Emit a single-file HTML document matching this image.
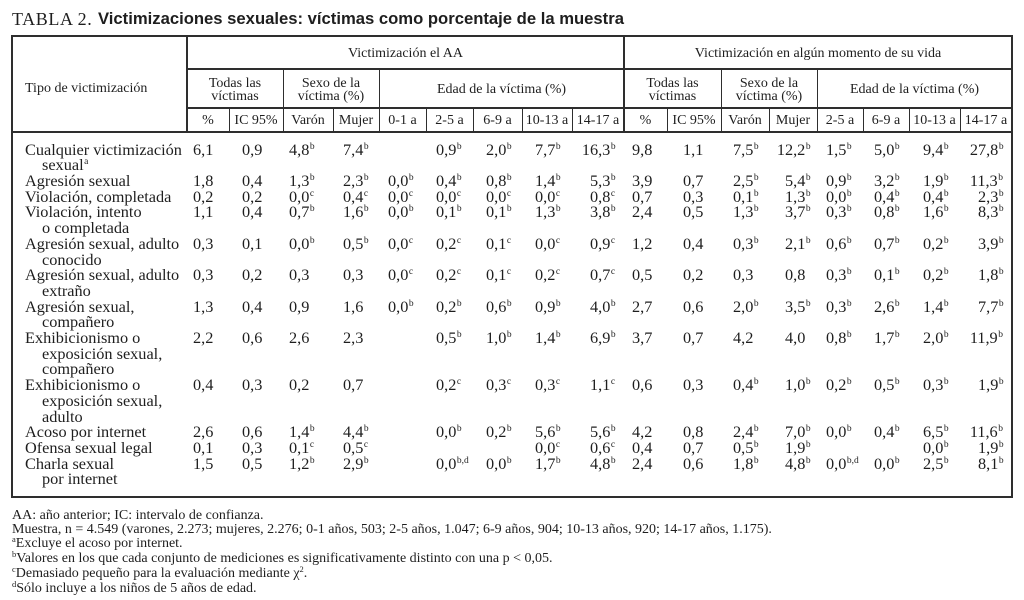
<!DOCTYPE html>
<html><head><meta charset="utf-8">
<style>
*{margin:0;padding:0;box-sizing:border-box}
html,body{width:1024px;height:600px;background:#fff;overflow:hidden}
body{position:relative;color:#1e1e1e;font-family:"Liberation Serif","Times New Roman",serif}
.ln{position:absolute;background:#2e2e2e}
.h{position:absolute;font-size:14px;line-height:14px;text-align:center;white-space:nowrap}
.h2{position:absolute;font-size:14px;line-height:13px;text-align:center;white-space:nowrap}
.row{position:absolute;left:0;top:0;width:1024px;height:16px;font-size:16.3px;line-height:15.71px}
.row span{position:absolute;top:0;white-space:nowrap}
.s{font-size:9.5px;position:relative;top:-6px;margin-left:.5px;font-style:normal}
.w{margin-left:-8.2px}
.a1{left:193px}.a2{left:242px}.a3{left:289px}.a4{left:343px}.a5{left:388px}.a6{left:436px}.a7{left:486px}.a8{left:535px}.a9{left:590px}
.b1{left:632px}.b2{left:683px}.b3{left:733px}.b4{left:785px}.b5{left:826px}.b6{left:874px}.b7{left:923px}.b8{left:978px}
.lab{position:absolute;left:25px;top:141.64px;font-size:16.3px;line-height:15.71px;white-space:nowrap}
.lab div{height:15.71px}
.lab .i{padding-left:17px}
.fn{position:absolute;left:12px;top:509.3px;font-size:14px;line-height:13.9px;white-space:nowrap}
.fs{font-size:8.5px;position:relative;top:-5px}
</style></head><body>

<div style="position:absolute;left:12px;top:8.7px;font-size:18px;line-height:20px;letter-spacing:0.6px;white-space:nowrap">TABLA 2.</div>
<div style="position:absolute;left:98px;top:9.2px;font-family:'Liberation Sans',Arial,sans-serif;font-weight:bold;font-size:16.65px;line-height:20px;white-space:nowrap">Victimizaciones sexuales: víctimas como porcentaje de la muestra</div>

<!-- table frame -->
<div style="position:absolute;left:11px;top:35px;width:1002px;height:463px;border:2px solid #2e2e2e"></div>
<div class="ln" style="left:187px;top:68.3px;width:825px;height:1.5px"></div>
<div class="ln" style="left:187px;top:107px;width:825px;height:1.5px"></div>
<div class="ln" style="left:12px;top:131px;width:1000px;height:1.6px"></div>
<div class="ln" style="left:186.3px;top:36px;width:1.5px;height:96px"></div>
<div class="ln" style="left:623.3px;top:36px;width:1.5px;height:96px"></div>
<div class="ln" style="left:282.5px;top:69px;width:1.5px;height:63px"></div>
<div class="ln" style="left:378.5px;top:69px;width:1.5px;height:63px"></div>
<div class="ln" style="left:720.5px;top:69px;width:1.5px;height:63px"></div>
<div class="ln" style="left:816.5px;top:69px;width:1.5px;height:63px"></div>
<div class="ln" style="left:228.5px;top:107.5px;width:1.5px;height:24px"></div>
<div class="ln" style="left:332.5px;top:107.5px;width:1.5px;height:24px"></div>
<div class="ln" style="left:425.5px;top:107.5px;width:1.5px;height:24px"></div>
<div class="ln" style="left:472.5px;top:107.5px;width:1.5px;height:24px"></div>
<div class="ln" style="left:521.5px;top:107.5px;width:1.5px;height:24px"></div>
<div class="ln" style="left:571.5px;top:107.5px;width:1.5px;height:24px"></div>
<div class="ln" style="left:666.5px;top:107.5px;width:1.5px;height:24px"></div>
<div class="ln" style="left:768.5px;top:107.5px;width:1.5px;height:24px"></div>
<div class="ln" style="left:862.5px;top:107.5px;width:1.5px;height:24px"></div>
<div class="ln" style="left:908.5px;top:107.5px;width:1.5px;height:24px"></div>
<div class="ln" style="left:959.5px;top:107.5px;width:1.5px;height:24px"></div>

<!-- header text -->
<div class="h" style="left:25px;top:82.3px;text-align:left">Tipo de victimización</div>
<div class="h" style="left:187px;width:437px;top:47.3px">Victimización el AA</div>
<div class="h" style="left:624px;width:388px;top:47.3px">Victimización en algún momento de su vida</div>

<div class="h2" style="left:187px;width:96px;top:77.1px">Todas las<br>víctimas</div>
<div class="h2" style="left:283px;width:96px;top:77.1px">Sexo de la<br>víctima (%)</div>
<div class="h" style="left:379px;width:245px;top:83.3px">Edad de la víctima (%)</div>
<div class="h2" style="left:624px;width:97px;top:77.1px">Todas las<br>víctimas</div>
<div class="h2" style="left:721px;width:96px;top:77.1px">Sexo de la<br>víctima (%)</div>
<div class="h" style="left:817px;width:195px;top:83.3px">Edad de la víctima (%)</div>

<div class="h" style="left:187px;width:42px;top:114.3px">%</div>
<div class="h" style="left:229px;width:54px;top:114.3px">IC 95%</div>
<div class="h" style="left:283px;width:50px;top:114.3px">Varón</div>
<div class="h" style="left:333px;width:46px;top:114.3px">Mujer</div>
<div class="h" style="left:379px;width:47px;top:114.3px">0-1 a</div>
<div class="h" style="left:426px;width:47px;top:114.3px">2-5 a</div>
<div class="h" style="left:473px;width:49px;top:114.3px">6-9 a</div>
<div class="h" style="left:522px;width:50px;top:114.3px">10-13 a</div>
<div class="h" style="left:572px;width:52px;top:114.3px">14-17 a</div>
<div class="h" style="left:624px;width:43px;top:114.3px">%</div>
<div class="h" style="left:667px;width:54px;top:114.3px">IC 95%</div>
<div class="h" style="left:721px;width:48px;top:114.3px">Varón</div>
<div class="h" style="left:769px;width:48px;top:114.3px">Mujer</div>
<div class="h" style="left:817px;width:46px;top:114.3px">2-5 a</div>
<div class="h" style="left:863px;width:46px;top:114.3px">6-9 a</div>
<div class="h" style="left:909px;width:51px;top:114.3px">10-13 a</div>
<div class="h" style="left:960px;width:52px;top:114.3px">14-17 a</div>

<!-- row labels -->
<div class="lab">
<div>Cualquier victimización</div>
<div class="i">sexual<span class="s">a</span></div>
<div>Agresión sexual</div>
<div>Violación, completada</div>
<div>Violación, intento</div>
<div class="i">o completada</div>
<div>Agresión sexual, adulto</div>
<div class="i">conocido</div>
<div>Agresión sexual, adulto</div>
<div class="i">extraño</div>
<div>Agresión sexual,</div>
<div class="i">compañero</div>
<div>Exhibicionismo o</div>
<div class="i">exposición sexual,</div>
<div class="i">compañero</div>
<div>Exhibicionismo o</div>
<div class="i">exposición sexual,</div>
<div class="i">adulto</div>
<div>Acoso por internet</div>
<div>Ofensa sexual legal</div>
<div>Charla sexual</div>
<div class="i">por internet</div>
</div>

<!-- data rows -->
<div class="row" style="top:141.64px">
<span class="a1">6,1</span><span class="a2">0,9</span><span class="a3">4,8<i class="s">b</i></span><span class="a4">7,4<i class="s">b</i></span>
<span class="a6">0,9<i class="s">b</i></span><span class="a7">2,0<i class="s">b</i></span><span class="a8">7,7<i class="s">b</i></span><span class="a9 w">16,3<i class="s">b</i></span>
<span class="b1">9,8</span><span class="b2">1,1</span><span class="b3">7,5<i class="s">b</i></span><span class="b4 w">12,2<i class="s">b</i></span>
<span class="b5">1,5<i class="s">b</i></span><span class="b6">5,0<i class="s">b</i></span><span class="b7">9,4<i class="s">b</i></span><span class="b8 w">27,8<i class="s">b</i></span>
</div>

<div class="row" style="top:173.06px">
<span class="a1">1,8</span><span class="a2">0,4</span><span class="a3">1,3<i class="s">b</i></span><span class="a4">2,3<i class="s">b</i></span>
<span class="a5">0,0<i class="s">b</i></span><span class="a6">0,4<i class="s">b</i></span><span class="a7">0,8<i class="s">b</i></span><span class="a8">1,4<i class="s">b</i></span><span class="a9">5,3<i class="s">b</i></span>
<span class="b1">3,9</span><span class="b2">0,7</span><span class="b3">2,5<i class="s">b</i></span><span class="b4">5,4<i class="s">b</i></span>
<span class="b5">0,9<i class="s">b</i></span><span class="b6">3,2<i class="s">b</i></span><span class="b7">1,9<i class="s">b</i></span><span class="b8 w">11,3<i class="s">b</i></span>
</div>

<div class="row" style="top:188.77px">
<span class="a1">0,2</span><span class="a2">0,2</span><span class="a3">0,0<i class="s">c</i></span><span class="a4">0,4<i class="s">c</i></span>
<span class="a5">0,0<i class="s">c</i></span><span class="a6">0,0<i class="s">c</i></span><span class="a7">0,0<i class="s">c</i></span><span class="a8">0,0<i class="s">c</i></span><span class="a9">0,8<i class="s">c</i></span>
<span class="b1">0,7</span><span class="b2">0,3</span><span class="b3">0,1<i class="s">b</i></span><span class="b4">1,3<i class="s">b</i></span>
<span class="b5">0,0<i class="s">b</i></span><span class="b6">0,4<i class="s">b</i></span><span class="b7">0,4<i class="s">b</i></span><span class="b8">2,3<i class="s">b</i></span>
</div>

<div class="row" style="top:204.48px">
<span class="a1">1,1</span><span class="a2">0,4</span><span class="a3">0,7<i class="s">b</i></span><span class="a4">1,6<i class="s">b</i></span>
<span class="a5">0,0<i class="s">b</i></span><span class="a6">0,1<i class="s">b</i></span><span class="a7">0,1<i class="s">b</i></span><span class="a8">1,3<i class="s">b</i></span><span class="a9">3,8<i class="s">b</i></span>
<span class="b1">2,4</span><span class="b2">0,5</span><span class="b3">1,3<i class="s">b</i></span><span class="b4">3,7<i class="s">b</i></span>
<span class="b5">0,3<i class="s">b</i></span><span class="b6">0,8<i class="s">b</i></span><span class="b7">1,6<i class="s">b</i></span><span class="b8">8,3<i class="s">b</i></span>
</div>

<div class="row" style="top:235.90px">
<span class="a1">0,3</span><span class="a2">0,1</span><span class="a3">0,0<i class="s">b</i></span><span class="a4">0,5<i class="s">b</i></span>
<span class="a5">0,0<i class="s">c</i></span><span class="a6">0,2<i class="s">c</i></span><span class="a7">0,1<i class="s">c</i></span><span class="a8">0,0<i class="s">c</i></span><span class="a9">0,9<i class="s">c</i></span>
<span class="b1">1,2</span><span class="b2">0,4</span><span class="b3">0,3<i class="s">b</i></span><span class="b4">2,1<i class="s">b</i></span>
<span class="b5">0,6<i class="s">b</i></span><span class="b6">0,7<i class="s">b</i></span><span class="b7">0,2<i class="s">b</i></span><span class="b8">3,9<i class="s">b</i></span>
</div>

<div class="row" style="top:267.32px">
<span class="a1">0,3</span><span class="a2">0,2</span><span class="a3">0,3</span><span class="a4">0,3</span>
<span class="a5">0,0<i class="s">c</i></span><span class="a6">0,2<i class="s">c</i></span><span class="a7">0,1<i class="s">c</i></span><span class="a8">0,2<i class="s">c</i></span><span class="a9">0,7<i class="s">c</i></span>
<span class="b1">0,5</span><span class="b2">0,2</span><span class="b3">0,3</span><span class="b4">0,8</span>
<span class="b5">0,3<i class="s">b</i></span><span class="b6">0,1<i class="s">b</i></span><span class="b7">0,2<i class="s">b</i></span><span class="b8">1,8<i class="s">b</i></span>
</div>

<div class="row" style="top:298.74px">
<span class="a1">1,3</span><span class="a2">0,4</span><span class="a3">0,9</span><span class="a4">1,6</span>
<span class="a5">0,0<i class="s">b</i></span><span class="a6">0,2<i class="s">b</i></span><span class="a7">0,6<i class="s">b</i></span><span class="a8">0,9<i class="s">b</i></span><span class="a9">4,0<i class="s">b</i></span>
<span class="b1">2,7</span><span class="b2">0,6</span><span class="b3">2,0<i class="s">b</i></span><span class="b4">3,5<i class="s">b</i></span>
<span class="b5">0,3<i class="s">b</i></span><span class="b6">2,6<i class="s">b</i></span><span class="b7">1,4<i class="s">b</i></span><span class="b8">7,7<i class="s">b</i></span>
</div>

<div class="row" style="top:330.16px">
<span class="a1">2,2</span><span class="a2">0,6</span><span class="a3">2,6</span><span class="a4">2,3</span>
<span class="a6">0,5<i class="s">b</i></span><span class="a7">1,0<i class="s">b</i></span><span class="a8">1,4<i class="s">b</i></span><span class="a9">6,9<i class="s">b</i></span>
<span class="b1">3,7</span><span class="b2">0,7</span><span class="b3">4,2</span><span class="b4">4,0</span>
<span class="b5">0,8<i class="s">b</i></span><span class="b6">1,7<i class="s">b</i></span><span class="b7">2,0<i class="s">b</i></span><span class="b8 w">11,9<i class="s">b</i></span>
</div>

<div class="row" style="top:377.29px">
<span class="a1">0,4</span><span class="a2">0,3</span><span class="a3">0,2</span><span class="a4">0,7</span>
<span class="a6">0,2<i class="s">c</i></span><span class="a7">0,3<i class="s">c</i></span><span class="a8">0,3<i class="s">c</i></span><span class="a9">1,1<i class="s">c</i></span>
<span class="b1">0,6</span><span class="b2">0,3</span><span class="b3">0,4<i class="s">b</i></span><span class="b4">1,0<i class="s">b</i></span>
<span class="b5">0,2<i class="s">b</i></span><span class="b6">0,5<i class="s">b</i></span><span class="b7">0,3<i class="s">b</i></span><span class="b8">1,9<i class="s">b</i></span>
</div>

<div class="row" style="top:424.42px">
<span class="a1">2,6</span><span class="a2">0,6</span><span class="a3">1,4<i class="s">b</i></span><span class="a4">4,4<i class="s">b</i></span>
<span class="a6">0,0<i class="s">b</i></span><span class="a7">0,2<i class="s">b</i></span><span class="a8">5,6<i class="s">b</i></span><span class="a9">5,6<i class="s">b</i></span>
<span class="b1">4,2</span><span class="b2">0,8</span><span class="b3">2,4<i class="s">b</i></span><span class="b4">7,0<i class="s">b</i></span>
<span class="b5">0,0<i class="s">b</i></span><span class="b6">0,4<i class="s">b</i></span><span class="b7">6,5<i class="s">b</i></span><span class="b8 w">11,6<i class="s">b</i></span>
</div>

<div class="row" style="top:440.13px">
<span class="a1">0,1</span><span class="a2">0,3</span><span class="a3">0,1<i class="s">c</i></span><span class="a4">0,5<i class="s">c</i></span>
<span class="a8">0,0<i class="s">c</i></span><span class="a9">0,6<i class="s">c</i></span>
<span class="b1">0,4</span><span class="b2">0,7</span><span class="b3">0,5<i class="s">b</i></span><span class="b4">1,9<i class="s">b</i></span>
<span class="b7">0,0<i class="s">b</i></span><span class="b8">1,9<i class="s">b</i></span>
</div>

<div class="row" style="top:455.84px">
<span class="a1">1,5</span><span class="a2">0,5</span><span class="a3">1,2<i class="s">b</i></span><span class="a4">2,9<i class="s">b</i></span>
<span class="a6">0,0<i class="s">b,d</i></span><span class="a7">0,0<i class="s">b</i></span><span class="a8">1,7<i class="s">b</i></span><span class="a9">4,8<i class="s">b</i></span>
<span class="b1">2,4</span><span class="b2">0,6</span><span class="b3">1,8<i class="s">b</i></span><span class="b4">4,8<i class="s">b</i></span>
<span class="b5">0,0<i class="s">b,d</i></span><span class="b6">0,0<i class="s">b</i></span><span class="b7">2,5<i class="s">b</i></span><span class="b8">8,1<i class="s">b</i></span>
</div>

<!-- footnotes -->
<div class="fn">
AA: año anterior; IC: intervalo de confianza.<br>
Muestra, n = 4.549 (varones, 2.273; mujeres, 2.276; 0-1 años, 503; 2-5 años, 1.047; 6-9 años, 904; 10-13 años, 920; 14-17 años, 1.175).<br>
<span class="fs">a</span>Excluye el acoso por internet.<br>
<span class="fs">b</span>Valores en los que cada conjunto de mediciones es significativamente distinto con una p &lt; 0,05.<br>
<span class="fs">c</span>Demasiado pequeño para la evaluación mediante χ<span class="fs">2</span>.<br>
<span class="fs">d</span>Sólo incluye a los niños de 5 años de edad.
</div>

</body></html>
